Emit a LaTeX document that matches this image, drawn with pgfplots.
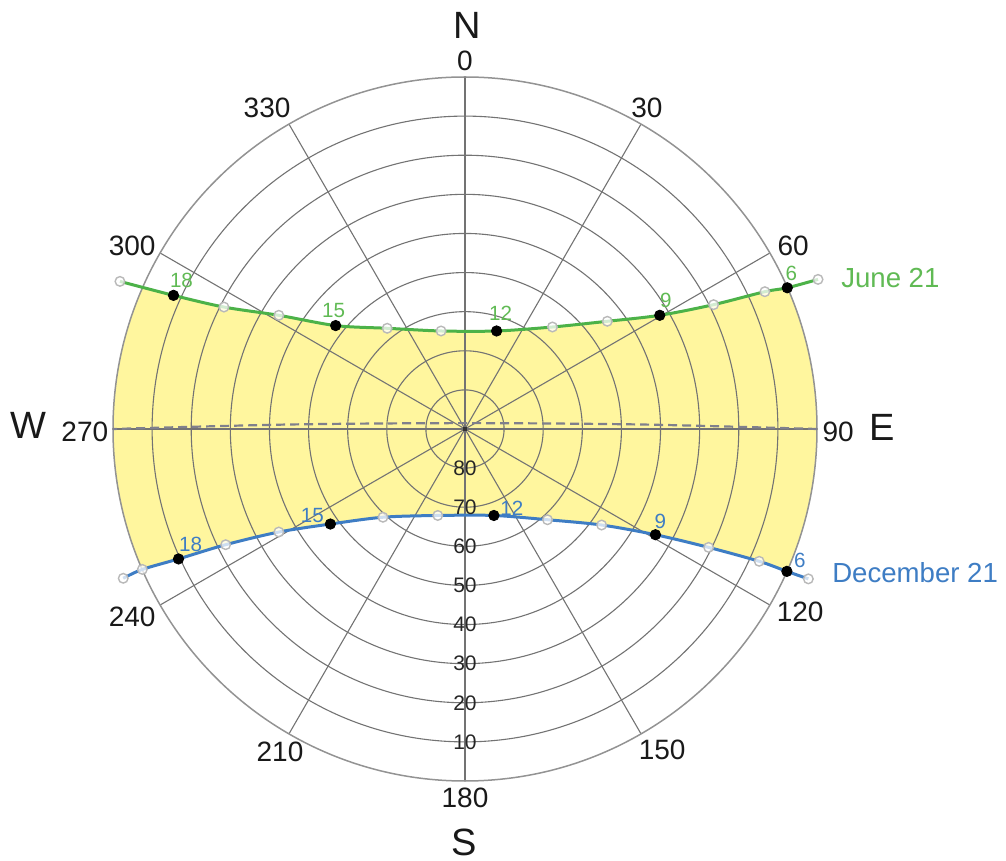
\documentclass[border=0pt]{standalone}
\usepackage{fontspec}
\setmainfont{Liberation Sans}
\usepackage{pgfplots}
\pgfplotsset{compat=1.18}
\usepgfplotslibrary{fillbetween}
\definecolor{junegreen}{RGB}{76,178,72}
\definecolor{junetext}{RGB}{96,186,84}
\definecolor{decblue}{RGB}{62,125,196}
\definecolor{fillyellow}{RGB}{255,246,158}
\definecolor{gridgray}{RGB}{115,115,115}
\definecolor{dashgray}{RGB}{128,128,140}
\pgfplotsset{sunaxis/.style={
  at={(0pt,0pt)}, anchor=center,
  width=352pt, height=352pt, scale only axis,
  xmin=-90, xmax=90, ymin=-90, ymax=90,
  hide axis, clip=false,
}}
\begin{document}
\begin{tikzpicture}
% ---------- yellow band between the two sun paths
\begin{axis}[sunaxis]
\addplot[name path=june, draw=none, smooth] coordinates {
 (-110,44) (-88.22,37.74) (-74.53,34.17) (-61.63,31.18) (-47.60,29.07) (-33.07,26.44)
 (-19.89,25.75) (-6.12,25.06) (8.08,25.06) (22.36,26.08) (36.38,27.54)
 (49.80,29.07) (63.56,31.79) (76.67,35.11) (82.4,36.1) (90.26,38.25) (110,44.5)};
\addplot[name path=dec, draw=none, smooth] coordinates {
 (-110,-45) (-87.38,-38.17) (-82.5,-35.9) (-73.25,-33.22) (-61.19,-29.58) (-47.60,-26.34)
 (-34.42,-24.30) (-20.98,-22.56) (-6.96,-22.11) (7.39,-22.11) (21.09,-23.20)
 (34.93,-24.55) (48.70,-27.03) (62.29,-30.27) (75.22,-33.83) (82.3,-36.4)
 (87.79,-38.32) (110,-45)};
\addplot[fillyellow, draw=none] fill between[of=june and dec];
\end{axis}
% mask outside the horizon circle
\fill[white, even odd rule] (-232.5pt,-216pt) rectangle (270.5pt,214.5pt) (0,0) circle[radius=176pt];
% ---------- polar grid
\foreach \r in {1,...,8}{
  \draw[gridgray, line width=0.55pt] (0,0) circle[radius=\r*19.5556pt];
}
\foreach \a in {0,30,...,330}{
  \draw[gridgray, line width=0.55pt] (0,0) -- (\a:176pt);
}
\draw[gray!85, line width=0.75pt] (0,0) circle[radius=176pt];
\fill[black!80] (-1.2pt,-1.2pt) rectangle (1.2pt,1.2pt);
% ---------- sun paths, marks, labels
\begin{axis}[sunaxis]
% equinox path (dashed)
\addplot[dashgray, line width=1.1pt, dash pattern=on 4.5pt off 2.5pt, smooth]
 coordinates {(90,0) (45,1.15) (0,1.5) (-45,1.15) (-90,0)};
% June 21
\addplot[junegreen, line width=1.5pt, smooth] coordinates {
 (-88.22,37.74) (-74.53,34.17) (-61.63,31.18) (-47.60,29.07) (-33.07,26.44)
 (-19.89,25.75) (-6.12,25.06) (8.08,25.06) (22.36,26.08) (36.38,27.54)
 (49.80,29.07) (63.56,31.79) (76.67,35.11) (82.4,36.1) (90.26,38.25)};
% December 21
\addplot[decblue, line width=1.5pt, smooth] coordinates {
 (-87.38,-38.17) (-82.5,-35.9) (-73.25,-33.22) (-61.19,-29.58) (-47.60,-26.34)
 (-34.42,-24.30) (-20.98,-22.56) (-6.96,-22.11) (7.39,-22.11) (21.09,-23.20)
 (34.93,-24.55) (48.70,-27.03) (62.29,-30.27) (75.22,-33.83) (82.3,-36.4)
 (87.79,-38.32)};
% open hourly points
\addplot[only marks, mark=*, mark size=2.4pt,
  mark options={fill=white, fill opacity=0.75, draw=gray!55, line width=0.7pt}] coordinates {
 (-88.22,37.74) (-61.63,31.18) (-47.60,29.07) (-19.89,25.75) (-6.12,25.06)
 (22.36,26.08) (36.38,27.54) (63.56,31.79) (76.67,35.11) (90.26,38.25)
 (-87.38,-38.17) (-82.5,-35.9) (-61.19,-29.58) (-47.60,-26.34) (-20.98,-22.56)
 (-6.96,-22.11) (21.09,-23.20) (34.93,-24.55) (62.29,-30.27) (75.22,-33.83)
 (87.79,-38.32)};
% black labelled points, June
\addplot[only marks, mark=*, mark size=2.6pt, black,
  visualization depends on={value \thisrow{dx}\as\dxv},
  visualization depends on={value \thisrow{dy}\as\dyv},
  nodes near coords, point meta=explicit symbolic,
  every node near coord/.append style={anchor=center, text=junetext,
    font=\fontsize{10.3}{12}\selectfont, xshift=\dxv pt, yshift=\dyv pt}]
 table[x=x, y=y, meta=lbl] {
 x      y      dx   dy   lbl
 -74.53 34.17  4    7.5  18
 -33.07 26.44  -1   7.5  15
 8.08   25.06  2    9    12
 49.80  29.07  3    7.5  9
 82.4   36.1   2    7    6
};
% black labelled points, December
\addplot[only marks, mark=*, mark size=2.6pt, black,
  visualization depends on={value \thisrow{dx}\as\dxv},
  visualization depends on={value \thisrow{dy}\as\dyv},
  nodes near coords, point meta=explicit symbolic,
  every node near coord/.append style={anchor=center, text=decblue,
    font=\fontsize{10.3}{12}\selectfont, xshift=\dxv pt, yshift=\dyv pt}]
 table[x=x, y=y, meta=lbl] {
 x      y       dx   dy   lbl
 -73.25 -33.22  6    7.5  18
 -34.42 -24.30  -9   4.5  15
 7.39   -22.11  9    3.5  12
 48.70  -27.03  2.5  6.5  9
 82.3   -36.4   6.5  5.5  6
};
% altitude labels
\foreach \r/\a in {10/80,20/70,30/60,40/50,50/40,60/30,70/20,80/10}{
  \edef\tmp{\noexpand\node[inner sep=0pt, font=\noexpand\fontsize{10.5}{12}\noexpand\selectfont, text=black!85] at (axis cs:0,-\r) {\a};}
  \tmp
}
% azimuth labels
\foreach \x/\y/\t in {0/94.1/0, 46.5/82.1/30, 83.9/46.8/60, 95.4/-0.8/90,
  85.7/-46.8/120, 50.4/-82.1/150, 0/-94.3/180, -47.3/-82.6/210,
  -85.1/-48.1/240, -97.2/-0.8/270, -85.1/46.8/300, -50.6/82.1/330}{
  \edef\tmp{\noexpand\node[inner sep=0pt, font=\noexpand\fontsize{14}{16}\noexpand\selectfont, text=black!90] at (axis cs:\x,\y) {\t};}
  \tmp
}
% compass letters
\node[inner sep=0pt, font=\fontsize{19}{22}\selectfont, text=black!90] at (axis cs:0.5,103.3) {N};
\node[inner sep=0pt, font=\fontsize{19}{22}\selectfont, text=black!90] at (axis cs:-0.3,-105.6) {S};
\node[inner sep=0pt, font=\fontsize{19}{22}\selectfont, text=black!90] at (axis cs:-111.5,0.8) {W};
\node[inner sep=0pt, font=\fontsize{19}{22}\selectfont, text=black!90] at (axis cs:106.6,0.5) {E};
% day labels
\node[anchor=west, inner sep=0pt, font=\fontsize{13.8}{16}\selectfont, text=junetext] at (axis cs:96.1,38.6) {June 21};
\node[anchor=west, inner sep=0pt, font=\fontsize{13.8}{16}\selectfont, text=decblue] at (axis cs:93.8,-36.8) {December 21};
\end{axis}
\pgfresetboundingbox
\path[use as bounding box] (-232.5pt,-216pt) rectangle (270.5pt,214.5pt);
\end{tikzpicture}
\end{document}
